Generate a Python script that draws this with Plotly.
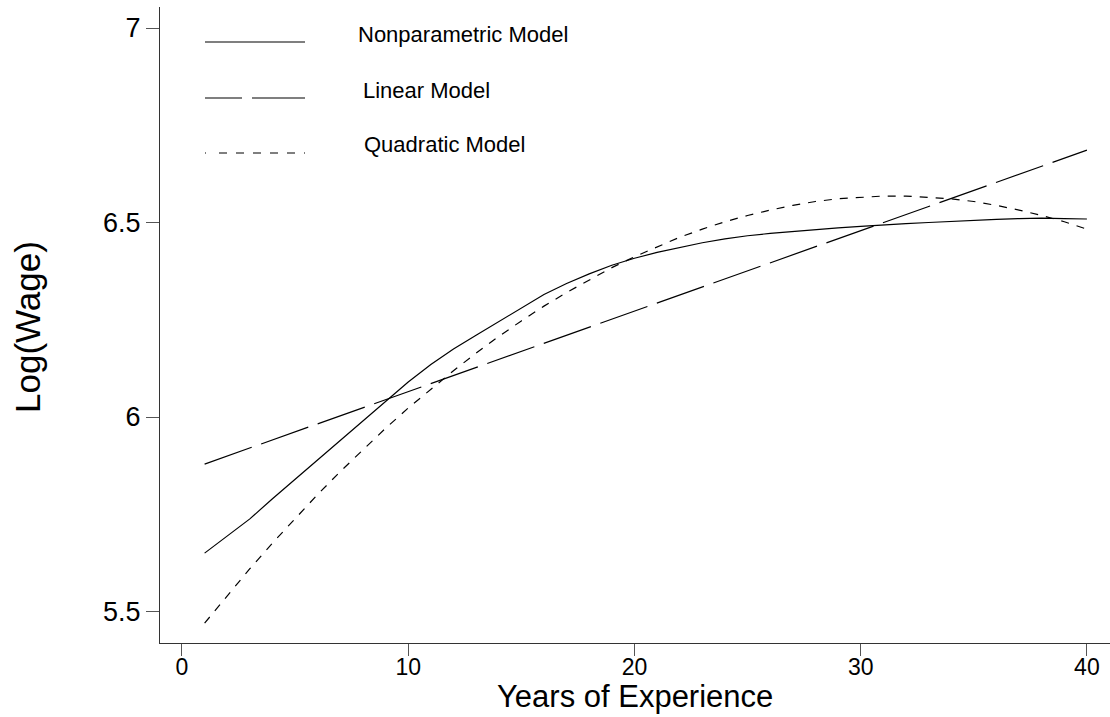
import plotly.graph_objects as go

# ---- data ----
years = list(range(1, 41))
nonparametric = [5.650, 5.693, 5.738, 5.790, 5.840, 5.890, 5.940, 5.990, 6.040, 6.090,
                 6.135, 6.175, 6.210, 6.245, 6.280, 6.315, 6.343, 6.368, 6.390, 6.408,
                 6.423, 6.436, 6.448, 6.458, 6.466, 6.472, 6.477, 6.481, 6.486, 6.490,
                 6.494, 6.497, 6.500, 6.503, 6.506, 6.508, 6.510, 6.511, 6.510, 6.509]
quadratic = [5.470, 5.541, 5.610, 5.676, 5.739, 5.801, 5.860, 5.916, 5.971, 6.023,
             6.072, 6.119, 6.164, 6.207, 6.247, 6.285, 6.320, 6.353, 6.384, 6.412,
             6.438, 6.462, 6.483, 6.502, 6.518, 6.532, 6.544, 6.554, 6.561, 6.565,
             6.568, 6.568, 6.565, 6.561, 6.554, 6.544, 6.532, 6.518, 6.502, 6.483]
linear_x = [1, 40]
linear_y = [5.879, 6.686]

x_ticks = [0, 10, 20, 30, 40]
y_ticks = [5.5, 6, 6.5, 7]
y_tick_text = ["5.5", "6", "6.5", "7"]
legend_names = ["Nonparametric Model", "Linear Model", "Quadratic Model"]

# ---- layout geometry (pixels) ----
W, H = 1110, 717
L, R, T, B = 160, 0, 7, 74
PW, PH = W - L - R, H - T - B


def px(xp):
    return (xp - L) / PW


def py(yp):
    return (H - B - yp) / PH


FONT = "Liberation Sans, Arial, sans-serif"
INK = "black"

fig = go.Figure()
fig.add_trace(go.Scatter(x=years, y=nonparametric, mode="lines", name=legend_names[0],
                         line=dict(color=INK, width=1.2, dash="solid")))
fig.add_trace(go.Scatter(x=linear_x, y=linear_y, mode="lines", name=legend_names[1],
                         line=dict(color=INK, width=1.2, dash="50px,10px")))
fig.add_trace(go.Scatter(x=years, y=quadratic, mode="lines", name=legend_names[2],
                         line=dict(color=INK, width=1.2, dash="8px,8px")))

# custom legend (long sample lines, as in the reference)
legend_dash = ["solid", "37px,10px,53px", "1px,13px,8px,9px,8px,9px,8px,9px,8px,9px,8px,9px"]
legend_line_y = [42, 98, 153]
legend_text_x = [356, 361, 362]
shapes = []
annotations = []
for name, dash, ly, tx in zip(legend_names, legend_dash, legend_line_y, legend_text_x):
    shapes.append(dict(type="line", xref="paper", yref="paper",
                       x0=px(205), x1=px(305), y0=py(ly), y1=py(ly),
                       line=dict(color=INK, width=1.2, dash=dash)))
    annotations.append(dict(text=name, xref="paper", yref="paper", x=px(tx), y=py(ly - 8),
                            xanchor="left", yanchor="middle", showarrow=False,
                            font=dict(family=FONT, size=22, color=INK)))

# axis titles
annotations.append(dict(text="Years of Experience", xref="paper", yref="paper",
                        x=px(635), y=py(715), xanchor="center", yanchor="bottom",
                        showarrow=False, borderpad=0,
                        font=dict(family=FONT, size=31, color=INK)))
annotations.append(dict(text="Log(Wage)", xref="paper", yref="paper",
                        x=px(27), y=py(327), xanchor="center", yanchor="middle",
                        textangle=-90, showarrow=False,
                        font=dict(family=FONT, size=35, color=INK)))

fig.update_layout(
    width=W, height=H,
    margin=dict(l=L, r=R, t=T, b=B, autoexpand=False),
    paper_bgcolor="white", plot_bgcolor="white",
    showlegend=False,
    shapes=shapes, annotations=annotations,
    font=dict(family=FONT, color=INK),
)
fig.update_xaxes(range=[-0.972, 41.02], tickvals=x_ticks, showgrid=False, zeroline=False,
                 showline=True, linecolor="#333", linewidth=1.3,
                 ticks="outside", ticklen=12, tickcolor="#555", tickwidth=1.2,
                 ticklabelstandoff=-9,
                 tickfont=dict(family=FONT, size=23, color=INK))
fig.update_yaxes(range=[5.419, 7.054], tickvals=y_ticks, ticktext=y_tick_text,
                 showgrid=False, zeroline=False,
                 showline=True, linecolor="#333", linewidth=1.3,
                 ticks="outside", ticklen=13, tickcolor="#555", tickwidth=1.2,
                 tickfont=dict(family=FONT, size=27, color=INK))

fig.write_html("out.html", config={"displayModeBar": False},
               post_script="document.body.style.margin='0';document.body.style.overflow='hidden';")
